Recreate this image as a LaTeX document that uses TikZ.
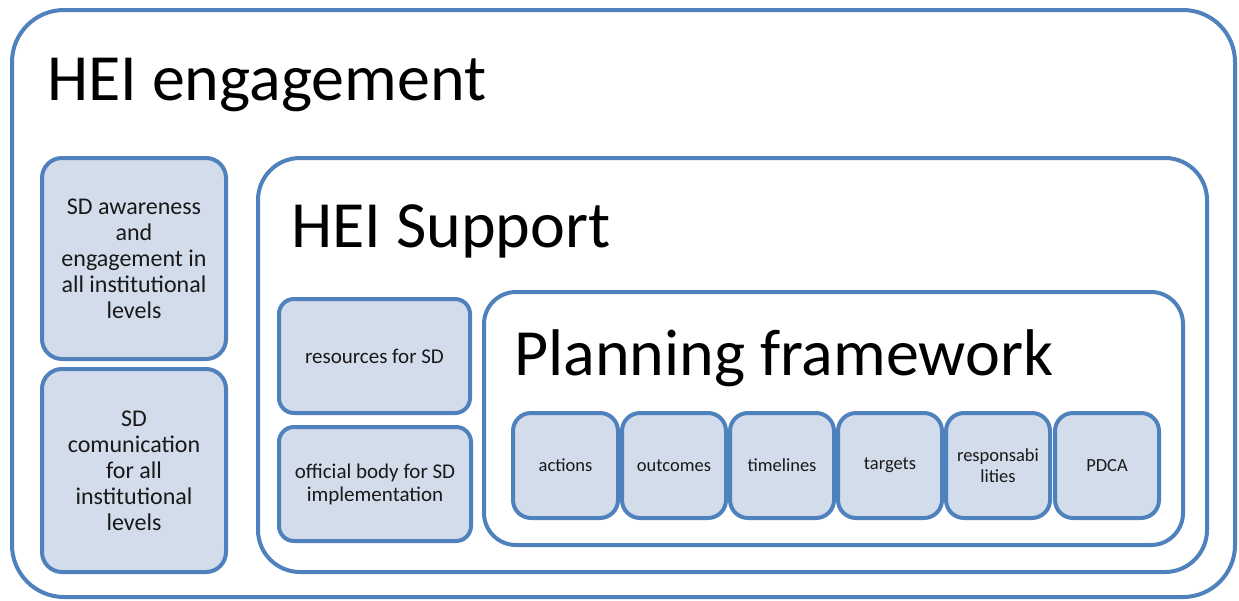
\documentclass[tikz,border=0pt]{standalone}
\usepackage{fontspec}
\setmainfont{Carlito}
\definecolor{bstroke}{RGB}{79,129,189}
\definecolor{bfill}{RGB}{211,220,235}
\begin{document}
\begin{tikzpicture}[x=1pt,y=-1pt,
  frame/.style={draw=bstroke,line width=4pt,fill=white,rectangle,inner sep=0pt},
  cell/.style={draw=bstroke,line width=4pt,fill=bfill,rectangle,inner sep=0pt,align=center,text=black!90},
  bigtitle/.style={anchor=base west,inner sep=0pt,text=black,font=\fontsize{66}{70}\selectfont}]
\useasboundingbox (0,0) rectangle (1239,600);
\newcommand{\boxat}[6]{\node[#1,rounded corners=#6,minimum width={#4-#2},minimum height={#5-#3}] at ({(#2+#4)/2},{(#3+#5)/2})}
% outer
\boxat{frame}{12}{10}{1235}{597}{52} (outer) {};
\node[bigtitle] (t1) at (47,100) {HEI engagement};
% left cells
\boxat{cell,font=\fontsize{24}{26}\selectfont}{42}{158}{226}{359}{20} (aware) {SD awareness\\and\\engagement in\\all institutional\\levels};
\boxat{cell,font=\fontsize{24}{26}\selectfont}{42}{369}{226}{572}{20} (comm) {SD\\comunication\\for all\\institutional\\levels};
% HEI support
\boxat{frame}{258}{158}{1207}{572}{42} (support) {};
\node[bigtitle] (t2) at (291,247) {HEI Support};
\boxat{cell,font=\fontsize{21}{23}\selectfont}{279}{299}{470}{413}{15} (res) {resources for SD};
\boxat{cell,font=\fontsize{21}{23}\selectfont}{279}{427}{471}{541}{15} (body) {official body for SD\\implementation};
% planning framework
\boxat{frame}{484}{292}{1183}{545}{32} (plan) {};
\node[bigtitle] (t3) at (514,375) {Planning framework};
\boxat{cell,font=\fontsize{18.5}{21}\selectfont}{513}{413}{618}{518}{18} (c1) {actions};
\boxat{cell,font=\fontsize{18.5}{21}\selectfont}{622}{413}{726}{518}{18} (c2) {outcomes};
\boxat{cell,font=\fontsize{18.5}{21}\selectfont}{730}{413}{834}{518}{18} (c3) {timelines};
\boxat{cell,font=\fontsize{18.5}{21}\selectfont}{838}{413}{942}{518}{18} (c4) {targets};
\boxat{cell,font=\fontsize{18.5}{21}\selectfont}{946}{413}{1050}{518}{18} (c5) {responsabi\\lities};
\boxat{cell,font=\fontsize{18.5}{21}\selectfont}{1055}{413}{1159}{518}{18} (c6) {PDCA};
\end{tikzpicture}
\end{document}
